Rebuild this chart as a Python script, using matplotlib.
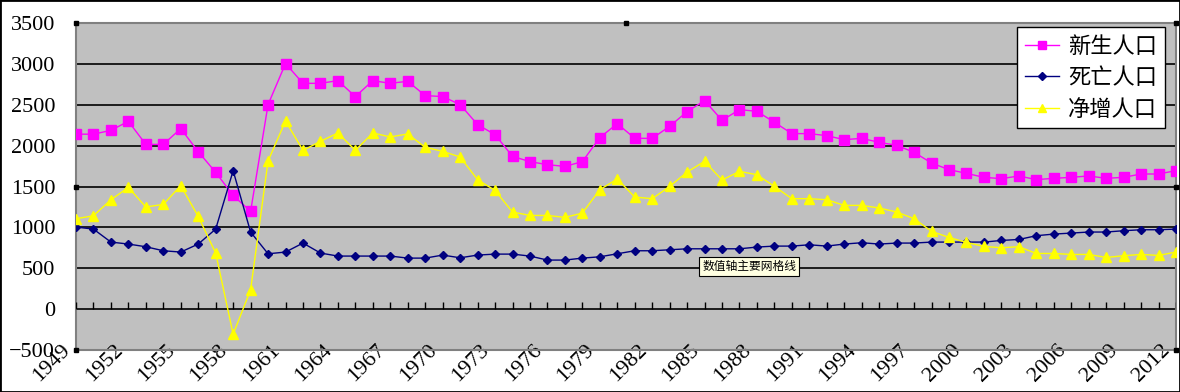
import numpy as np
import matplotlib.pyplot as plt
from matplotlib.transforms import ScaledTranslation

plt.rcParams['font.family'] = ['Noto Sans CJK SC', 'DejaVu Sans']

# Years on the category axis
years = list(range(1949, 2013))

# 新生人口 (births, 10k)
births = [2140, 2140, 2187, 2297, 2015, 2015, 2208, 1926, 1673, 1391,
          1195, 2502, 3004, 2762, 2762, 2795, 2600, 2795, 2762, 2787,
          2612, 2600, 2502, 2257, 2134, 1869, 1804, 1767, 1746, 1804,
          2098, 2269, 2089, 2089, 2236, 2416, 2551, 2310, 2440, 2420,
          2285, 2147, 2147, 2122, 2073, 2089, 2040, 2004, 1918, 1787,
          1706, 1661, 1612, 1596, 1629, 1584, 1600, 1612, 1629, 1600,
          1612, 1653, 1653, 1694]

# 死亡人口 (deaths)
deaths = [1004, 979, 820, 796, 763, 714, 698, 796, 979, 1693,
          943, 677, 698, 808, 686, 649, 649, 649, 649, 624,
          624, 661, 628, 661, 673, 673, 649, 600, 600, 624,
          640, 677, 714, 714, 726, 738, 738, 738, 738, 759,
          771, 771, 787, 771, 796, 812, 796, 808, 808, 820,
          820, 820, 820, 840, 852, 898, 918, 930, 943, 943,
          959, 971, 971, 979]

# 净增人口 (natural increase)
net = [1106, 1142, 1338, 1489, 1249, 1281, 1510, 1134, 686, -306,
       236, 1812, 2302, 1942, 2052, 2155, 1942, 2155, 2106, 2143,
       1979, 1930, 1861, 1583, 1452, 1188, 1146, 1146, 1122, 1175,
       1461, 1592, 1371, 1351, 1501, 1677, 1808, 1579, 1685, 1644,
       1501, 1351, 1351, 1338, 1269, 1269, 1237, 1188, 1106, 951,
       877, 816, 767, 751, 763, 681, 681, 669, 669, 632,
       653, 669, 657, 698]

yticks = list(range(-500, 3501, 500))
xlabels = years[::3]

fig = plt.figure(figsize=(11.8, 3.92), dpi=100)
fig.patch.set_facecolor('white')
ax = fig.add_axes([76/1180, 42/392, 1100/1180, 327/392])
ax.set_facecolor('#C0C0C0')

ax.plot(years, births, color='#FF00FF', lw=1, marker='s', ms=6.5,
        mec='#FF00FF', mfc='#FF00FF', label='新生人口', zorder=5)
ax.plot(years, deaths, color='#000080', lw=1, marker='D', ms=4.5,
        mec='#000080', mfc='#000080', label='死亡人口', zorder=5)
ax.plot(years, net, color='#FFFF00', lw=1, marker='^', ms=7.5,
        mec='#FFFF00', mfc='#FFFF00', label='净增人口', zorder=5)

ax.set_xlim(years[0], years[-1])
ax.set_ylim(yticks[0], yticks[-1])

# horizontal gridlines in black
ax.set_yticks(yticks)
ax.yaxis.grid(True, color='black', lw=1.2)
ax.set_axisbelow(True)

# small category ticks sitting on the zero line
ax.vlines(years, 0, 85, color='black', lw=1, zorder=3)

serif = ['Liberation Serif', 'DejaVu Serif']
ax.set_yticklabels([str(v).replace('-', '\u2212') for v in yticks],
                   family=serif, fontsize=16)
ax.tick_params(axis='y', length=0, pad=15)

ax.set_xticks(xlabels)
ax.set_xticklabels([str(v) for v in xlabels], family=serif, fontsize=16,
                   rotation=45, ha='right', va='top', rotation_mode='anchor')
ax.tick_params(axis='x', length=0, pad=0)
offset = ScaledTranslation(-0.15, 0.09, fig.dpi_scale_trans)
for lab in ax.get_xticklabels():
    lab.set_transform(lab.get_transform() + offset)

# dotted "selected" border of the plot area
for sp in ax.spines.values():
    sp.set_color('#808080')
    sp.set_linestyle((0, (1, 1)))
    sp.set_linewidth(1.5)

# selection handles
hx = [0, 0, 0, 1, 1, 1, 0.5]
hy = [0, 0.5, 1, 0, 0.5, 1, 1]
ax.plot(hx, hy, 's', color='black', ms=3.5, transform=ax.transAxes,
        clip_on=False, zorder=6)

leg = ax.legend(loc='upper right', bbox_to_anchor=(1 - 11/1100, 1 - 4/327),
                borderaxespad=0, fancybox=False, framealpha=1,
                edgecolor='black', fontsize=16, handlelength=1.55,
                labelspacing=0.38, borderpad=0.35, handletextpad=0.4,
                markerscale=0.8)
leg.get_frame().set_linewidth(1.0)

# tooltip left over from the spreadsheet
ax.text(0.612, 0.254, '数值轴主要网格线', transform=ax.transAxes,
        fontsize=8.5, ha='center', va='center', zorder=7,
        bbox=dict(boxstyle='square,pad=0.25', fc='#FFFFE1', ec='black', lw=0.8))

# outer frame of the chart
fig.add_artist(plt.Rectangle((0, 0), 1, 1, transform=fig.transFigure,
                             fill=False, ec='black', lw=2))

fig.savefig('out.png', dpi=100)
